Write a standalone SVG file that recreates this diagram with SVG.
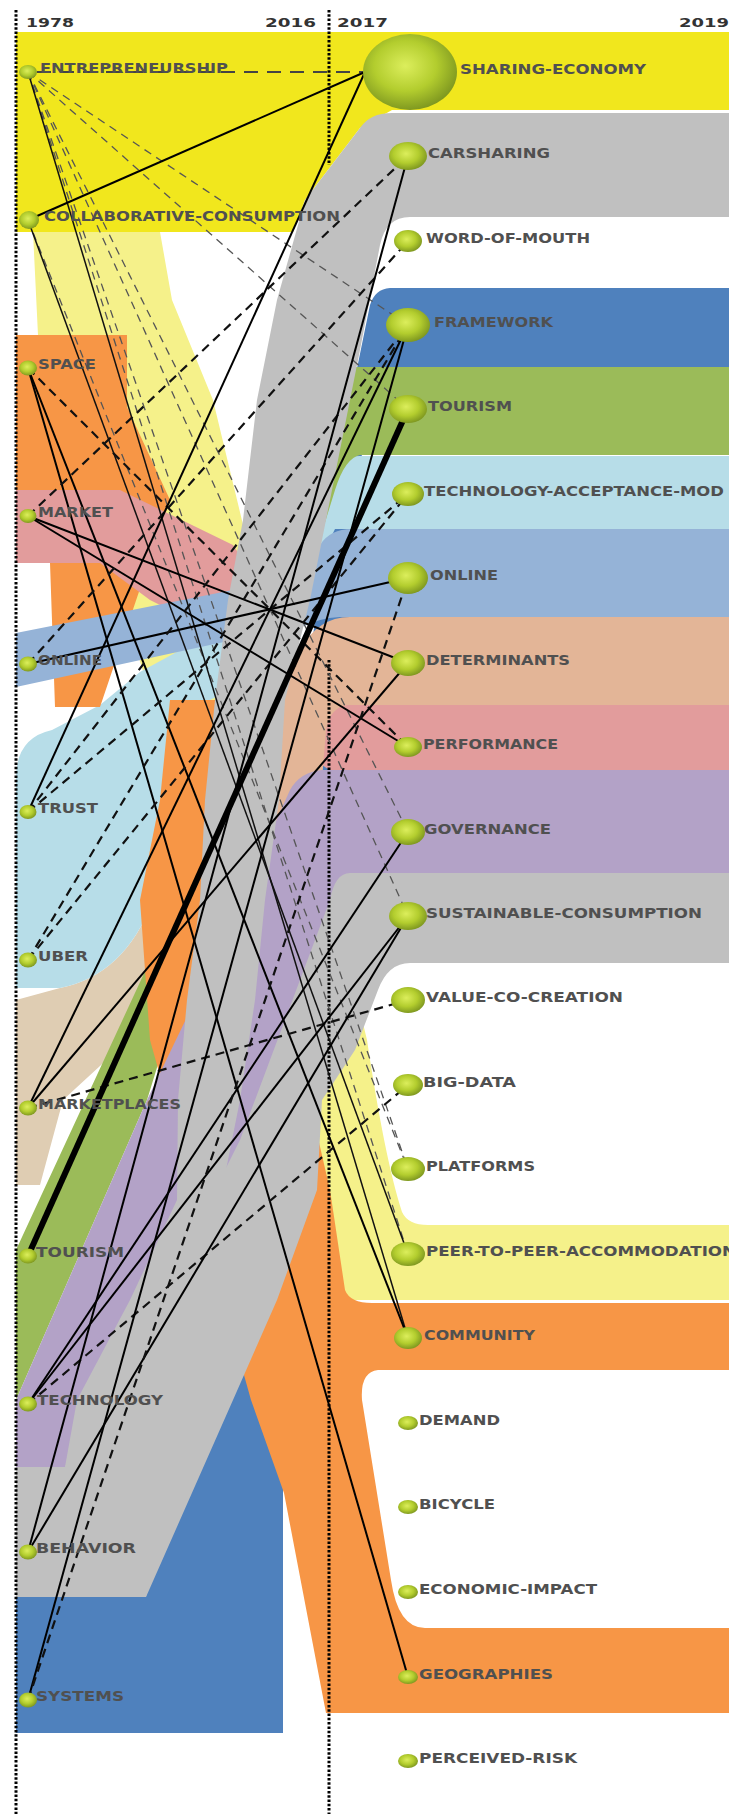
<svg xmlns="http://www.w3.org/2000/svg" width="729" height="1814" viewBox="0 0 729 1814">
<defs>
<radialGradient id="ng" cx="0.45" cy="0.42" r="0.6">
<stop offset="0" stop-color="#dcee5c"/>
<stop offset="0.55" stop-color="#b3cd2e"/>
<stop offset="1" stop-color="#7c951f"/>
</radialGradient>
<style>
.lbl{font-family:"DejaVu Sans",Verdana,sans-serif;font-size:13.5px;font-weight:bold;fill:#505050}
.yr{font-family:"DejaVu Sans",Verdana,sans-serif;font-size:12.5px;font-weight:bold;fill:#333}
.s{stroke:#000;stroke-width:2;fill:none}
.s1{stroke:#111;stroke-width:1.5;fill:none}
.d{stroke:#111;stroke-width:2.2;stroke-dasharray:9 6;fill:none}
.t{stroke:#555;stroke-width:1.3;stroke-dasharray:8 6;fill:none}
.dot{stroke:#000;stroke-width:3;stroke-dasharray:2.5 1.8;fill:none}
.node{fill:url(#ng)}
</style>
</defs>
<rect width="729" height="1814" fill="#fff"/>

<!-- thematic flows, back to front -->
<g id="flows">
<path id="f-sharing" fill="#f1e71d" d="M16,32 H729 V110 H392 L360,128 L305,200 L293,232 H16 Z"/>
<path id="f-p2p" fill="#f5f18a" d="M33,232 L160,232 L172,300 L213,400 L367,1040 Q385,1160 402,1212 Q408,1225 428,1225 L729,1225 L729,1300 L330,1300 L316,1225 L38,335 Z"/>
<path id="f-framework" fill="#4f81bd" d="M16,1560 L16,1733 L283,1733 L283,1447 L262,1400 L300,1250 L335,1000 L352,700 L362,450 L372,367 L729,367 L729,288 L390,288 Q375,289 370,305 L330,500 L280,900 L200,1300 L120,1560 Z"/>
<path id="f-marketplaces" fill="#dfcdb3" d="M16,1000 L60,988 Q125,975 153,900 L230,780 L285,690 Q310,640 340,625 L340,700 L300,800 L260,900 L150,1020 L63,1100 L40,1185 L16,1185 Z"/>
<path id="f-tam" fill="#b7dde8" d="M16,988 L16,778 Q16,738 52,730 L100,705 L140,672 L217,630 L290,560 L330,470 Q338,456 360,456 L729,456 L729,529 L335,529 L300,600 L250,680 L210,700 L170,705 L165,800 L153,900 Q125,975 60,988 Z"/>
<path id="f-tourism" fill="#9bbb59" d="M16,1250 L147,967 L355,367 L729,367 L729,455 L360,455 Q345,458 335,490 L147,1100 L16,1400 Z"/>
<path id="f-space-block" fill="#f79646" d="M16,335 H127 V407 L170,500 L100,707 L55,707 L50,563 L16,563 Z"/>
<path id="f-space" fill="#f79646" d="M160,800 L170,700 L217,700 L217,820 L300,1060 L330,1190 L345,1290 Q350,1303 372,1303 L729,1303 L729,1370 L378,1370 Q360,1372 362,1400 L391,1580 Q398,1628 425,1628 L729,1628 L729,1713 L326,1713 L284,1493 L251,1400 L150,1040 L140,900 Z"/>
<path id="f-market" fill="#e29c9c" d="M16,490 L120,490 L233,545 L290,630 Q315,705 345,705 L729,705 L729,772 L340,772 Q322,772 312,750 L250,650 L150,600 L100,563 L16,563 Z"/>
<path id="f-online" fill="#95b3d7" d="M16,633 L233,590 Q300,578 320,545 Q330,529 352,529 L729,529 L729,617 L340,617 Q318,618 300,628 L233,640 L16,687 Z"/>
<path id="f-determinants" fill="#e3b597" d="M270,830 L275,720 L300,650 Q318,617 350,617 L729,617 L729,705 L348,705 Q330,707 326,730 L318,830 Z"/>
<path id="f-sustainable" fill="#c0c0c0" d="M16,1467 L100,1330 L200,1100 L270,960 Q290,880 330,873 L729,873 L729,963 L410,963 Q388,963 378,990 L355,1050 L322,1100 L317,1190 L277,1300 L233,1400 L146,1597 L16,1597 Z"/>
<path id="f-governance" fill="#b3a2c7" d="M16,1400 L147,1100 L200,990 L290,790 Q300,772 322,770 L729,770 L729,873 L350,873 Q335,873 330,900 L300,980 L270,1060 L240,1140 L160,1300 L90,1400 L65,1467 L16,1467 Z"/>
<path id="f-carsharing" fill="#c0c0c0" d="M729,113 L392,113 Q370,113 360,128 L305,200 L277,300 L257,400 L243,520 L228,600 L215,700 L205,800 L200,900 L187,1000 L178,1100 L177,1200 L130,1300 L77,1400 L65,1467 L16,1467 L16,1597 L146,1597 L200,1300 L240,1100 L255,1000 L265,900 L279,800 L285,700 L310,600 L330,500 L360,350 L380,245 Q386,217 410,217 L729,217 Z"/>
</g>

<!-- period separators -->
<g id="periods">
<line class="dot" x1="16" y1="10" x2="16" y2="1814"/>
<line class="dot" x1="329" y1="10" x2="329" y2="165"/>
<line class="dot" x1="329" y1="660" x2="329" y2="1814"/>
<text class="yr" x="26" y="27" textLength="48" lengthAdjust="spacingAndGlyphs">1978</text>
<text class="yr" x="265" y="27" textLength="51" lengthAdjust="spacingAndGlyphs">2016</text>
<text class="yr" x="337" y="27" textLength="51" lengthAdjust="spacingAndGlyphs">2017</text>
<text class="yr" x="679" y="27" textLength="50" lengthAdjust="spacingAndGlyphs">2019</text>
</g>

<g id="connectors">
<line x1="37" y1="72" x2="365" y2="72" stroke="#444" stroke-width="2" stroke-dasharray="14 9"/>
<line class="t" x1="28" y1="72" x2="408" y2="325"/>
<line class="t" x1="28" y1="72" x2="408" y2="409"/>
<line class="t" x1="28" y1="72" x2="408" y2="832"/>
<line class="t" x1="28" y1="72" x2="408" y2="916"/>
<line class="t" x1="28" y1="72" x2="408" y2="1169"/>
<line class="t" x1="28" y1="72" x2="408" y2="1254"/>
<line class="t" x1="28" y1="220" x2="408" y2="1169"/>
<line class="s1" x1="28" y1="72" x2="408" y2="1338"/>
<line class="s" stroke-width="2.5" x1="28" y1="220" x2="365" y2="72"/>
<line class="s1" x1="28" y1="220" x2="408" y2="1254"/>
<line class="s" x1="28" y1="368" x2="408" y2="1338"/>
<line class="s" stroke-width="2.6" x1="28" y1="368" x2="408" y2="1677"/>
<line class="d" x1="28" y1="368" x2="408" y2="747"/>
<line class="d" x1="28" y1="516" x2="408" y2="156"/>
<line class="s" x1="28" y1="516" x2="408" y2="663"/>
<line class="s" x1="28" y1="516" x2="408" y2="747"/>
<line class="d" x1="28" y1="664" x2="408" y2="241"/>
<line class="s" stroke-width="2.8" x1="28" y1="664" x2="408" y2="578"/>
<line class="s" x1="28" y1="812" x2="365" y2="72"/>
<line class="d" x1="28" y1="812" x2="408" y2="494"/>
<line class="d" x1="28" y1="812" x2="408" y2="325"/>
<line class="d" x1="28" y1="960" x2="408" y2="325"/>
<line class="d" x1="28" y1="960" x2="408" y2="494"/>
<line class="s" x1="28" y1="1108" x2="408" y2="325"/>
<line class="s" x1="28" y1="1108" x2="408" y2="663"/>
<line class="d" x1="28" y1="1108" x2="408" y2="1000"/>
<line stroke="#000" stroke-width="6" x1="28" y1="1256" x2="408" y2="409"/>
<line class="s" x1="28" y1="1404" x2="408" y2="832"/>
<line class="s" x1="28" y1="1404" x2="408" y2="916"/>
<line class="d" x1="28" y1="1404" x2="408" y2="1085"/>
<line class="s" x1="28" y1="1552" x2="408" y2="156"/>
<line class="s" x1="28" y1="1552" x2="408" y2="916"/>
<line class="s" x1="28" y1="1700" x2="408" y2="325"/>
<line class="d" stroke-width="3" x1="28" y1="1700" x2="408" y2="578"/>
</g>

<!-- themes of the first period -->
<g id="n-entrepreneurship"><ellipse class="node" cx="28" cy="72" rx="9" ry="7"/><text class="lbl" x="40" y="73" textLength="188" lengthAdjust="spacingAndGlyphs">ENTREPRENEURSHIP</text></g>
<g id="n-collaborative-consumption"><ellipse class="node" cx="29" cy="220" rx="10" ry="9"/><text class="lbl" x="44" y="221" textLength="296" lengthAdjust="spacingAndGlyphs">COLLABORATIVE-CONSUMPTION</text></g>
<g id="n-space"><ellipse class="node" cx="28" cy="368" rx="9" ry="7.5"/><text class="lbl" x="38" y="369" textLength="58" lengthAdjust="spacingAndGlyphs">SPACE</text></g>
<g id="n-market"><ellipse class="node" cx="28" cy="516" rx="8.5" ry="7"/><text class="lbl" x="38" y="517" textLength="75" lengthAdjust="spacingAndGlyphs">MARKET</text></g>
<g id="n-online-1"><ellipse class="node" cx="28" cy="664" rx="9" ry="7.5"/><text class="lbl" x="38" y="665" textLength="64" lengthAdjust="spacingAndGlyphs">ONLINE</text></g>
<g id="n-trust"><ellipse class="node" cx="28" cy="812" rx="8.5" ry="7"/><text class="lbl" x="38" y="813" textLength="60" lengthAdjust="spacingAndGlyphs">TRUST</text></g>
<g id="n-uber"><ellipse class="node" cx="28" cy="960" rx="9" ry="7.5"/><text class="lbl" x="38" y="961" textLength="50" lengthAdjust="spacingAndGlyphs">UBER</text></g>
<g id="n-marketplaces"><ellipse class="node" cx="28" cy="1108" rx="9" ry="7.5"/><text class="lbl" x="38" y="1109" textLength="143" lengthAdjust="spacingAndGlyphs">MARKETPLACES</text></g>
<g id="n-tourism-1"><ellipse class="node" cx="28" cy="1256" rx="9" ry="7.5"/><text class="lbl" x="36" y="1257" textLength="88" lengthAdjust="spacingAndGlyphs">TOURISM</text></g>
<g id="n-technology"><ellipse class="node" cx="28" cy="1404" rx="9" ry="7.5"/><text class="lbl" x="37" y="1405" textLength="126" lengthAdjust="spacingAndGlyphs">TECHNOLOGY</text></g>
<g id="n-behavior"><ellipse class="node" cx="28" cy="1552" rx="9" ry="7.5"/><text class="lbl" x="36" y="1553" textLength="100" lengthAdjust="spacingAndGlyphs">BEHAVIOR</text></g>
<g id="n-systems"><ellipse class="node" cx="28" cy="1700" rx="9" ry="7.5"/><text class="lbl" x="36" y="1701" textLength="88" lengthAdjust="spacingAndGlyphs">SYSTEMS</text></g>

<!-- themes of the second period -->
<g id="n-sharing-economy"><ellipse class="node" cx="410" cy="72" rx="47" ry="38"/><text class="lbl" x="460" y="74" textLength="186" lengthAdjust="spacingAndGlyphs">SHARING-ECONOMY</text></g>
<g id="n-carsharing"><ellipse class="node" cx="408" cy="156" rx="19" ry="14"/><text class="lbl" x="428" y="158" textLength="122" lengthAdjust="spacingAndGlyphs">CARSHARING</text></g>
<g id="n-word-of-mouth"><ellipse class="node" cx="408" cy="241" rx="14" ry="11"/><text class="lbl" x="426" y="243" textLength="164" lengthAdjust="spacingAndGlyphs">WORD-OF-MOUTH</text></g>
<g id="n-framework"><ellipse class="node" cx="408" cy="325" rx="22" ry="17"/><text class="lbl" x="434" y="327" textLength="119" lengthAdjust="spacingAndGlyphs">FRAMEWORK</text></g>
<g id="n-tourism-2"><ellipse class="node" cx="408" cy="409" rx="19" ry="14"/><text class="lbl" x="428" y="411" textLength="84" lengthAdjust="spacingAndGlyphs">TOURISM</text></g>
<g id="n-tam"><ellipse class="node" cx="408" cy="494" rx="16" ry="12"/><text class="lbl" x="424" y="496" textLength="300" lengthAdjust="spacingAndGlyphs">TECHNOLOGY-ACCEPTANCE-MOD</text></g>
<g id="n-online-2"><ellipse class="node" cx="408" cy="578" rx="20" ry="16"/><text class="lbl" x="430" y="580" textLength="68" lengthAdjust="spacingAndGlyphs">ONLINE</text></g>
<g id="n-determinants"><ellipse class="node" cx="408" cy="663" rx="17" ry="13"/><text class="lbl" x="426" y="665" textLength="144" lengthAdjust="spacingAndGlyphs">DETERMINANTS</text></g>
<g id="n-performance"><ellipse class="node" cx="408" cy="747" rx="14" ry="10"/><text class="lbl" x="423" y="749" textLength="135" lengthAdjust="spacingAndGlyphs">PERFORMANCE</text></g>
<g id="n-governance"><ellipse class="node" cx="408" cy="832" rx="17" ry="13"/><text class="lbl" x="424" y="834" textLength="127" lengthAdjust="spacingAndGlyphs">GOVERNANCE</text></g>
<g id="n-sustainable-consumption"><ellipse class="node" cx="408" cy="916" rx="19" ry="14"/><text class="lbl" x="426" y="918" textLength="276" lengthAdjust="spacingAndGlyphs">SUSTAINABLE-CONSUMPTION</text></g>
<g id="n-value-co-creation"><ellipse class="node" cx="408" cy="1000" rx="17" ry="13"/><text class="lbl" x="426" y="1002" textLength="197" lengthAdjust="spacingAndGlyphs">VALUE-CO-CREATION</text></g>
<g id="n-big-data"><ellipse class="node" cx="408" cy="1085" rx="15" ry="11"/><text class="lbl" x="423" y="1087" textLength="93" lengthAdjust="spacingAndGlyphs">BIG-DATA</text></g>
<g id="n-platforms"><ellipse class="node" cx="408" cy="1169" rx="17" ry="12"/><text class="lbl" x="426" y="1171" textLength="109" lengthAdjust="spacingAndGlyphs">PLATFORMS</text></g>
<g id="n-p2p"><ellipse class="node" cx="408" cy="1254" rx="17" ry="12"/><text class="lbl" x="426" y="1256" textLength="310" lengthAdjust="spacingAndGlyphs">PEER-TO-PEER-ACCOMMODATION</text></g>
<g id="n-community"><ellipse class="node" cx="408" cy="1338" rx="14" ry="11"/><text class="lbl" x="424" y="1340" textLength="111" lengthAdjust="spacingAndGlyphs">COMMUNITY</text></g>
<g id="n-demand"><ellipse class="node" cx="408" cy="1423" rx="10" ry="7"/><text class="lbl" x="419" y="1425" textLength="81" lengthAdjust="spacingAndGlyphs">DEMAND</text></g>
<g id="n-bicycle"><ellipse class="node" cx="408" cy="1507" rx="10" ry="7"/><text class="lbl" x="419" y="1509" textLength="76" lengthAdjust="spacingAndGlyphs">BICYCLE</text></g>
<g id="n-economic-impact"><ellipse class="node" cx="408" cy="1592" rx="10" ry="7"/><text class="lbl" x="419" y="1594" textLength="178" lengthAdjust="spacingAndGlyphs">ECONOMIC-IMPACT</text></g>
<g id="n-geographies"><ellipse class="node" cx="408" cy="1677" rx="10" ry="7"/><text class="lbl" x="419" y="1679" textLength="134" lengthAdjust="spacingAndGlyphs">GEOGRAPHIES</text></g>
<g id="n-perceived-risk"><ellipse class="node" cx="408" cy="1761" rx="10" ry="7"/><text class="lbl" x="419" y="1763" textLength="158" lengthAdjust="spacingAndGlyphs">PERCEIVED-RISK</text></g>
</svg>
